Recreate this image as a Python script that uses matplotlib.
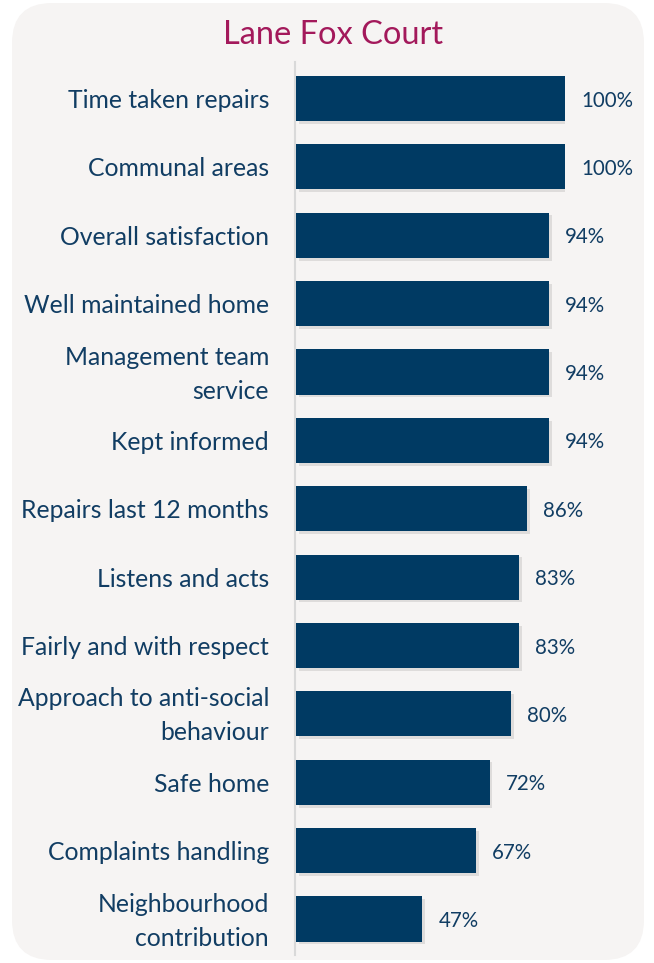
import matplotlib.pyplot as plt
import matplotlib.patheffects as pe
from matplotlib.patches import FancyBboxPatch

# data
categories = ['Time taken repairs', 'Communal areas', 'Overall satisfaction',
              'Well maintained home', 'Management team\nservice', 'Kept informed',
              'Repairs last 12 months', 'Listens and acts', 'Fairly and with respect',
              'Approach to anti-social\nbehaviour', 'Safe home', 'Complaints handling',
              'Neighbourhood\ncontribution']
values = [100, 100, 94, 94, 94, 94, 86, 83, 83, 80, 72, 67, 47]
title = 'Lane Fox Court'

navy = '#003a63'
text_col = '#113d63'
plt.rcParams['font.family'] = ['Lato', 'DejaVu Sans']

W, H = 654, 963
fig = plt.figure(figsize=(W / 100, H / 100), dpi=100)
fig.patch.set_facecolor('white')

# rounded grey panel behind everything
bg = fig.add_axes([0, 0, 1, 1], zorder=0)
bg.set_xlim(0, W)
bg.set_ylim(H, 0)
bg.axis('off')
bg.add_patch(FancyBboxPatch((12, 3), 632, 957, boxstyle='round,pad=0,rounding_size=40',
                            facecolor='#f6f4f3', edgecolor='none'))
bg.text(333, 35, title, ha='center', va='center', fontsize=23.5, color='#a3195b')

# bar area
ax = fig.add_axes([296 / W, 1 - 955 / H, 269 / W, 893 / H], zorder=1)
ax.patch.set_alpha(0)
y = list(range(len(values)))
bars = ax.barh(y, values, height=0.66, color=navy, zorder=3)
for b in bars:
    b.set_path_effects([pe.SimplePatchShadow(offset=(2, -2), shadow_rgbFace='#8a8a8a', alpha=0.22),
                        pe.Normal()])
ax.set_xlim(0, 100)
ax.set_ylim(12.526, -0.534)

for yi, v in zip(y, values):
    ax.text(v + 6, yi + 0.03, f'{v}%', va='center', ha='left', fontsize=14.8, color=text_col)

# category labels drawn as plain text so the line spacing sticks
for yi, c in zip(y, categories):
    ax.text(-27 / 269, yi + 0.03, c, transform=ax.get_yaxis_transform(), ha='right', va='center',
            fontsize=17.8, color=text_col, linespacing=1.58)

ax.set_yticks([])
ax.set_xticks([])
for s in ['top', 'right', 'bottom']:
    ax.spines[s].set_visible(False)
ax.spines['left'].set_color('#d9d9d9')
ax.spines['left'].set_linewidth(1.5)
ax.spines['left'].set_position(('outward', 1))

fig.savefig('out.png', dpi=100)
